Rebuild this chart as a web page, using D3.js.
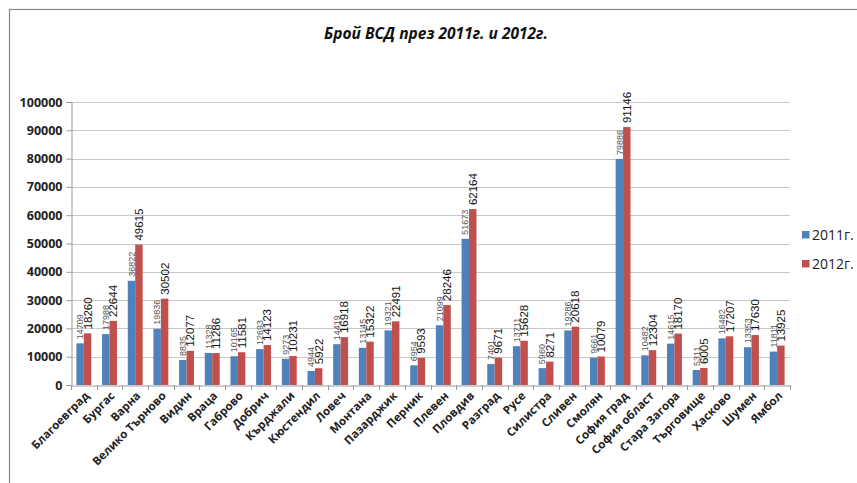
<!DOCTYPE html>
<html><head><meta charset="utf-8">
<script src="https://cdn.jsdelivr.net/npm/d3@7"></script>
<style>
html,body{margin:0;padding:0;background:#fff;}
svg{display:block;}
</style></head>
<body>
<script>
const categories = ["Благоевград","Бургас","Варна","Велико Търново","Видин","Враца","Габрово","Добрич","Кърджали","Кюстендил","Ловеч","Монтана","Пазарджик","Перник","Плевен","Пловдив","Разград","Русе","Силистра","Сливен","Смолян","София град","София област","Стара Загора","Търговище","Хасково","Шумен","Ямбол"];
const values2011 = [14709,17988,36822,19836,8835,11328,10165,12693,9273,4944,14419,13145,19321,6954,21099,51673,7401,13711,5960,19286,9661,79886,10482,14615,5311,16482,13353,11811];
const values2012 = [18260,22644,49615,30502,12077,11286,11581,14123,10231,5922,16918,15322,22491,9593,28246,62164,9671,15628,8271,20618,10079,91146,12304,18170,6005,17207,17630,13925];
const seriesNames = ["2011г.","2012г."];
const yTicks = [0,10000,20000,30000,40000,50000,60000,70000,80000,90000,100000];
const title = "Брой ВСД през 2011г. и 2012г.";

(function(){
const W = 857, H = 483;
const colors = ["#4F81BD","#C0504D"];
const series = [values2011, values2012];

const svg = d3.select("body").append("svg").attr("width", W).attr("height", H);

svg.append("rect").attr("x",9.5).attr("y",9.5).attr("width",W+20).attr("height",H+20)
  .attr("fill","#fff").attr("stroke","#888").attr("stroke-width",1.2);

const pLeft = 71, pRight = 790, pTop = 102, pBottom = 385;

const x = d3.scaleBand().domain(categories).range([pLeft, pRight]).paddingInner(0.42).paddingOuter(0.21);
const xs = d3.scaleBand().domain([0,1]).range([0, x.bandwidth()]);
const y = d3.scaleLinear().domain([0,100000]).range([pBottom, pTop]);

// gridlines
svg.append("g").selectAll("line").data(yTicks.slice(1)).join("line")
  .attr("x1", pLeft).attr("x2", pRight)
  .attr("y1", d=>Math.round(y(d))+0.5).attr("y2", d=>Math.round(y(d))+0.5)
  .attr("stroke","#c8c8c8").attr("stroke-width",1);

// y axis
const yAxis = d3.axisLeft(y).tickValues(yTicks).tickSize(5).tickPadding(4).tickFormat(d3.format("d"));
const gy = svg.append("g").attr("transform",`translate(${pLeft+0.5},0)`).call(yAxis);
gy.select(".domain").attr("stroke","#999");
gy.selectAll(".tick line").attr("stroke","#999");
gy.selectAll(".tick text").attr("font-family","'Open Sans', 'Liberation Sans', sans-serif")
  .attr("font-weight","bold").attr("font-size","12.5px").attr("fill","#222");

// bars
const groups = svg.append("g").selectAll("g").data(categories).join("g")
  .attr("transform", d=>`translate(${x(d)},0)`);

[0,1].forEach(s=>{
  groups.append("rect")
    .attr("x", xs(s)).attr("width", xs.bandwidth())
    .attr("y", (d,i)=>y(series[s][i])).attr("height",(d,i)=>pBottom - y(series[s][i]))
    .attr("fill", colors[s]);
});

// data labels
[0,1].forEach(s=>{
  groups.append("text")
    .attr("transform",(d,i)=>`translate(${xs(s)+xs.bandwidth()/2},${y(series[s][i]) - 4}) rotate(-90)`)
    .attr("dy","0.35em")
    .attr("text-anchor","start")
    .attr("font-family","'Liberation Sans', 'DejaVu Sans', sans-serif")
    .attr("font-size", s===0 ? "9px" : "11.5px")
    .attr("fill", s===0 ? "#555" : "#111")
    .text((d,i)=>series[s][i]);
});

// x axis
const xAxis = d3.axisBottom(x).tickSize(0).tickFormat(d=>d);
const gx = svg.append("g").attr("transform",`translate(0,${pBottom+0.5})`).call(xAxis);
gx.select(".domain").attr("stroke","#999");
gx.selectAll(".tick text")
  .attr("font-family","'Open Sans', 'Liberation Sans', sans-serif")
  .attr("font-weight","bold").attr("font-size","11.5px").attr("fill","#222")
  .attr("text-anchor","end").attr("dy",0).attr("y",0)
  .attr("transform","translate(6,11) rotate(-45)");
// category boundary ticks
const bounds = d3.range(categories.length+1).map(i=>pLeft + i*(pRight-pLeft)/categories.length);
svg.append("g").selectAll("line").data(bounds).join("line")
  .attr("x1",d=>Math.round(d)+0.5).attr("x2",d=>Math.round(d)+0.5)
  .attr("y1",pBottom).attr("y2",pBottom+5).attr("stroke","#999");

// title
svg.append("text").attr("x",436).attr("y",39).attr("text-anchor","middle")
  .attr("font-family","'Open Sans', 'Liberation Sans', sans-serif")
  .attr("font-style","italic").attr("font-weight","bold").attr("font-size","15.5px").attr("fill","#111")
  .text(title);

// legend
const lg = svg.append("g").attr("transform","translate(802,231)");
seriesNames.forEach((n,i)=>{
  const g = lg.append("g").attr("transform",`translate(0,${i*29})`);
  g.append("rect").attr("width",7.5).attr("height",7.5).attr("fill",colors[i]);
  g.append("text").attr("x",10).attr("y",4).attr("dy","0.35em")
    .attr("font-family","'Open Sans', 'Liberation Sans', sans-serif")
    .attr("font-size","14px").attr("fill","#222").text(n);
});
})();
</script>
</body></html>
